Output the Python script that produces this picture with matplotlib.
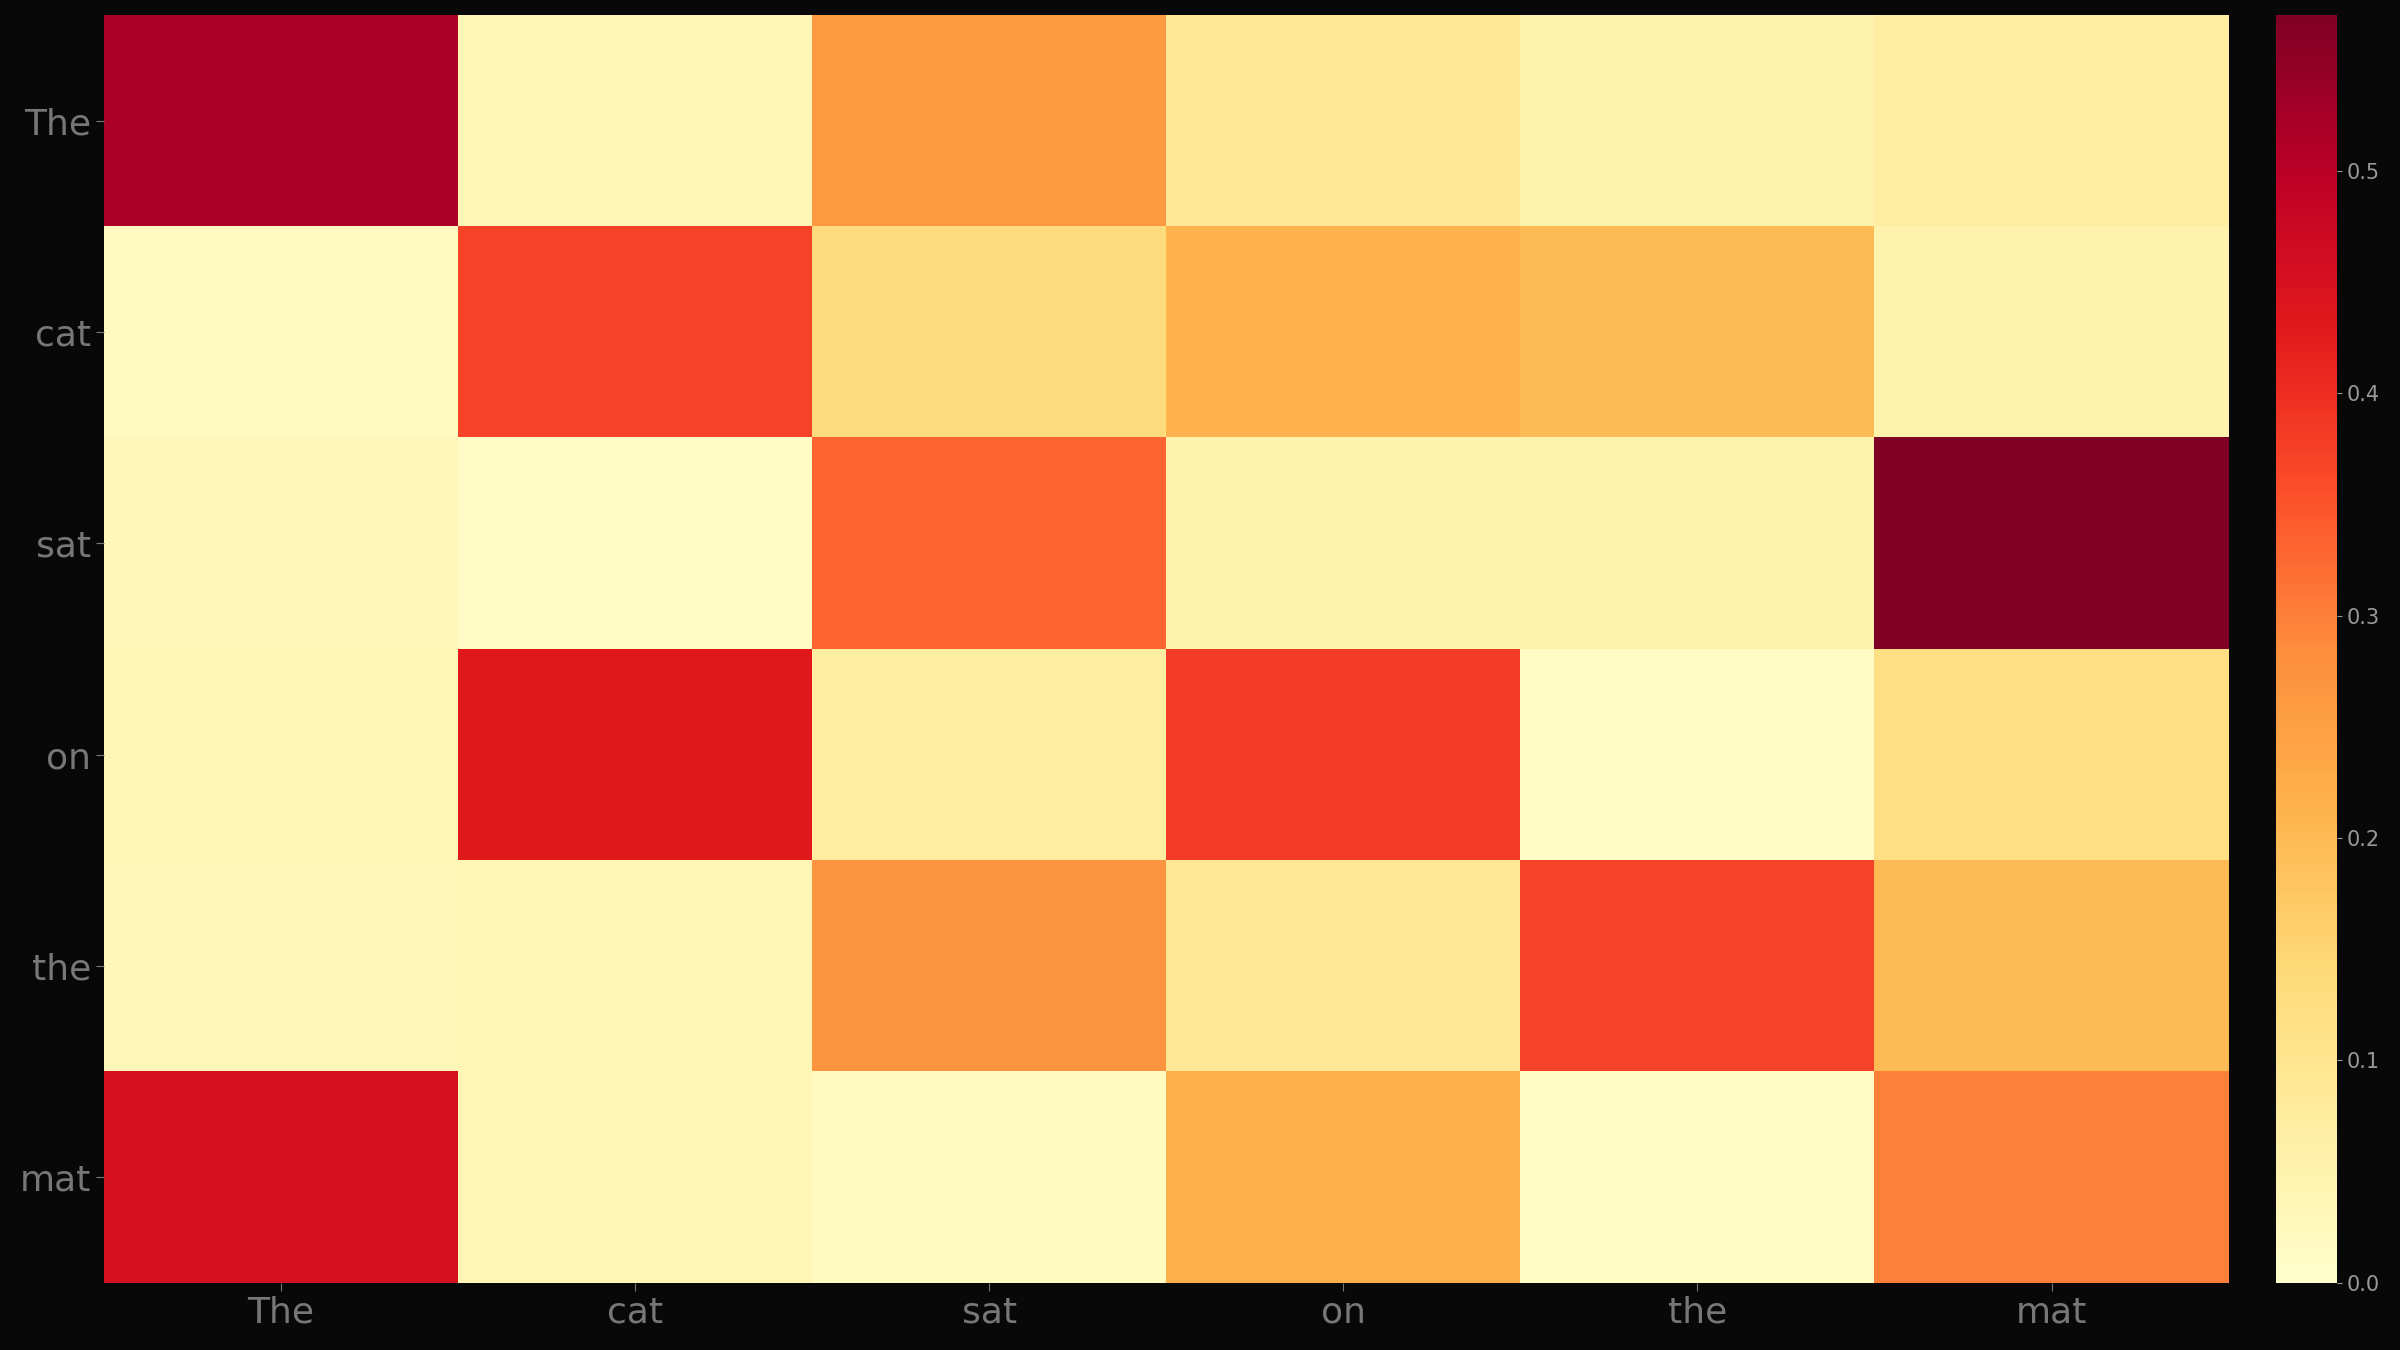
import matplotlib
matplotlib.use("Agg")
import matplotlib.pyplot as plt
import numpy as np

tokens = ["The", "cat", "sat", "on", "the", "mat"]
row_The = [0.52, 0.04, 0.26, 0.09, 0.05, 0.07]
row_cat = [0.02, 0.37, 0.13, 0.21, 0.20, 0.05]
row_sat = [0.03, 0.01, 0.33, 0.05, 0.05, 0.57]
row_on  = [0.04, 0.43, 0.07, 0.38, 0.01, 0.12]
row_the = [0.03, 0.04, 0.27, 0.09, 0.37, 0.20]
row_mat = [0.45, 0.04, 0.02, 0.22, 0.01, 0.30]
data = np.array([row_The, row_cat, row_sat, row_on, row_the, row_mat])

bg = "#080808"
fig = plt.figure(figsize=(24, 13.5), dpi=100, facecolor=bg)
ax = fig.add_axes([68/1568, 1-838/882, (1456-68)/1568, (838-10)/882])
cax = fig.add_axes([1487/1568, 1-838/882, 40/1568, (838-10)/882])
im = ax.imshow(data, cmap="YlOrRd", vmin=0, vmax=data.max(), aspect="auto")
ax.set_xticks(range(6), tokens)
ax.set_yticks(range(6), tokens)
ax.tick_params(colors="#777777", labelsize=26, length=6)
for s in ax.spines.values():
    s.set_visible(False)
cb = fig.colorbar(im, cax=cax)
cb.set_ticks([0, 0.1, 0.2, 0.3, 0.4, 0.5])
cb.ax.tick_params(colors="#999999", labelsize=15)
cb.outline.set_visible(False)
fig.savefig("out.png", facecolor=bg)
